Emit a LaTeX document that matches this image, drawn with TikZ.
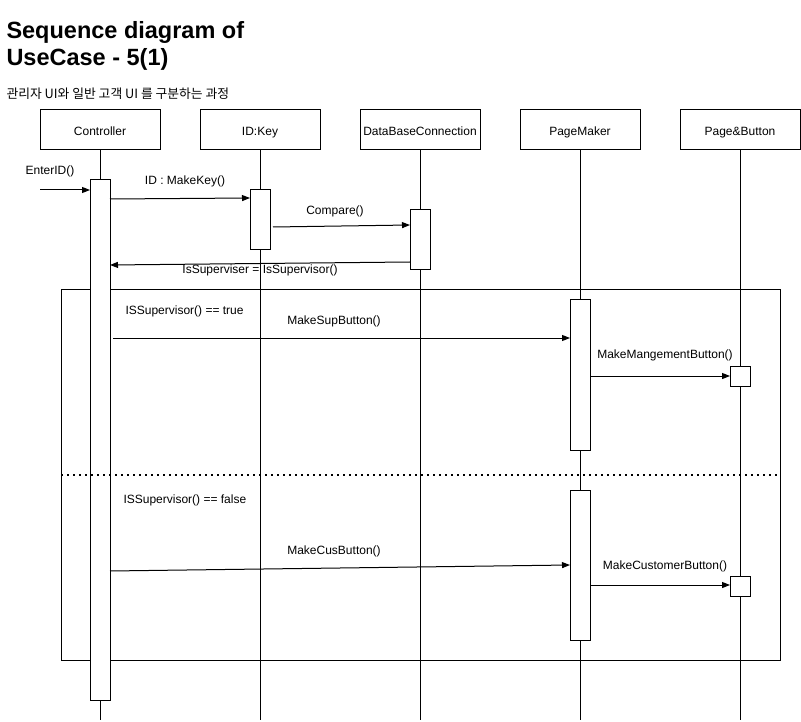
\documentclass[tikz,border=0pt]{standalone}
\usepackage{fontspec}
\setmainfont{Liberation Sans}
\newfontfamily\krfont{Noto Sans CJK KR}
\usetikzlibrary{arrows.meta,positioning}

\begin{document}
\begin{tikzpicture}[x=1pt,y=-1pt,line width=1pt,
    head/.style={draw,minimum width=120pt,minimum height=40pt,inner sep=0pt,outer sep=0pt,
        text height=10.6pt,text depth=0pt,font=\fontsize{12}{14}\selectfont},
    act/.style={draw,fill=white,minimum width=20pt,anchor=north,inner sep=0pt,outer sep=0pt},
    msg/.style={-{Triangle[length=8pt,width=6pt]}},
    lbl/.style={inner sep=0pt,font=\fontsize{12}{14}\selectfont}]
    \useasboundingbox (0,0) rectangle (801,722);

    % title
    \node[anchor=north west,inner sep=0pt,align=left,font=\bfseries\fontsize{23.5}{27}\selectfont] (title) at (6,21) {Sequence diagram of\\UseCase - 5(1)};
    \node[anchor=west,inner sep=0pt,font=\krfont\fontsize{12.8}{14}\selectfont] (sub) at (6,94) {관리자 UI와 일반 고객 UI 를 구분하는 과정};

    % lifeline heads
    \node[head] (ctrl) at (100,130) {Controller};
    \node[head, right=40pt of ctrl] (key) {ID:Key};
    \node[head, right=40pt of key] (dbc) {DataBaseConnection};
    \node[head, right=40pt of dbc] (pm) {PageMaker};
    \node[head, right=40pt of pm] (pb) {Page\&Button};
    \foreach \h in {ctrl,key,dbc,pm,pb}
        \draw (\h.south) -- (\h.south |- 0,720);

    % alt frame
    \node[draw,anchor=north west,minimum width=719pt,minimum height=370pt,inner sep=0pt,outer sep=0pt] (alt) at (61,290) {};

    % activations
    \node[act,minimum height=520pt] (ctrlA) at (ctrl.south |- 0,180) {};
    \node[act,minimum height=60pt] (keyA) at (key.south |- 0,190) {};
    \node[act,minimum height=60pt] (dbcA) at (dbc.south |- 0,210) {};
    \node[act,minimum height=150pt] (pmA) at (pm.south |- 0,300) {};
    \node[act,minimum height=150pt] (pmB) at (pm.south |- 0,490) {};
    \node[act,minimum height=20pt] (pbA) at (pb.south |- 0,366) {};
    \node[act,minimum height=20pt] (pbB) at (pb.south |- 0,576) {};

    \draw[line width=1.6pt,dash pattern=on 1.6pt off 4.4pt] (alt.west |- 0,475) -- (alt.east |- 0,475);

    % messages
    \coordinate (entry) at (40,190);
    \draw[msg] (entry) -- (ctrlA.west |- 0,190);
    \draw[msg] (ctrlA.east |- 0,199) -- (keyA.west |- 0,198);
    \draw[msg] ([xshift=3pt]keyA.east |- 0,227) -- (dbcA.west |- 0,225);
    \draw[msg] (dbcA.west |- 0,262) -- (ctrlA.east |- 0,265);
    \draw[msg] ([xshift=3pt]ctrlA.east |- 0,338) -- (pmA.west |- 0,338);
    \draw[msg] (pmA.east |- 0,376) -- (pbA.west |- 0,376);
    \draw[msg] (ctrlA.east |- 0,571) -- (pmB.west |- 0,565);
    \draw[msg] (pmB.east |- 0,585) -- (pbB.west |- 0,585);

    % labels
    \node[lbl] (l1) at (50,171) {EnterID()};
    \node[lbl] (l2) at (185,181) {ID : MakeKey()};
    \node[lbl] (l3) at (335,211) {Compare()};
    \node[lbl] (l4) at (260,270) {IsSuperviser = IsSupervisor()};
    \node[lbl,anchor=west] (g1) at (125,311) {ISSupervisor() == true};
    \node[lbl] (l5) at (334,321) {MakeSupButton()};
    \node[lbl] (l6) at (665,355) {MakeMangementButton()};
    \node[lbl,anchor=west] (g2) at (123,500) {ISSupervisor() == false};
    \node[lbl] (l7) at (334,551) {MakeCusButton()};
    \node[lbl] (l8) at (665,566) {MakeCustomerButton()};
\end{tikzpicture}
\end{document}
